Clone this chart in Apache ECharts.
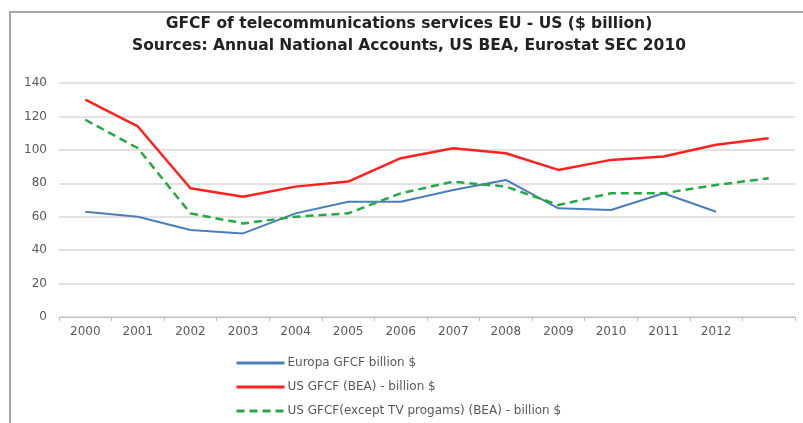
<!DOCTYPE html>
<html>
<head>
<meta charset="utf-8">
<script src="https://cdn.jsdelivr.net/npm/echarts@6/dist/echarts.min.js"></script>
<style>
  html, body { margin: 0; padding: 0; background: #fff; }
  #chart { width: 803px; height: 423px; }
</style>
</head>
<body>
<div id="chart"></div>
<script>
// categories (last slot has no label, US series run into it)
var years = ['2000','2001','2002','2003','2004','2005','2006','2007','2008','2009','2010','2011','2012',''];
var yTicks = { min: 0, max: 140, interval: 20 };

// values, billion $
var europe = [63, 60, 52, 50, 62, 69, 69, 76, 82, 65, 64, 74, 63, null];
var usBea = [130, 114, 77, 72, 78, 81, 95, 101, 98, 88, 94, 96, 103, 107];
var usExTv = [118, 101, 62, 56, 60, 62, 74, 81, 78, 67, 74, 74, 79, 83];

var names = [
  'Europa GFCF billion $',
  'US GFCF (BEA) - billion $',
  'US GFCF(except TV progams) (BEA) - billion $'
];

var chart = echarts.init(document.getElementById('chart'));
var txt = '#595959';

chart.setOption({
  animation: false,
  textStyle: { fontFamily: 'DejaVu Sans, sans-serif' },
  title: {
    text: 'GFCF of telecommunications services EU - US ($ billion)\nSources: Annual National Accounts, US BEA, Eurostat SEC 2010',
    left: 404,
    textAlign: 'center',
    top: 8,
    textStyle: { fontSize: 15.5, fontWeight: 'bold', color: '#222', lineHeight: 22 }
  },
  graphic: [{
    type: 'rect',
    shape: { x: 10, y: 12, width: 820, height: 440 },
    style: { fill: 'none', stroke: '#a6a6a6', lineWidth: 2 },
    silent: true
  }],
  legend: {
    orient: 'vertical',
    left: 230,
    top: 352,
    itemWidth: 48,
    itemHeight: 10,
    itemGap: 12,
    itemStyle: { opacity: 0 },
    lineStyle: { width: 3 },
    textStyle: { fontSize: 12, color: txt, padding: [0, 0, 0, -2] },
    data: names
  },
  grid: { left: 59, right: 8, top: 83, bottom: 106 },
  xAxis: {
    type: 'category',
    data: years,
    boundaryGap: true,
    axisLine: { lineStyle: { color: '#bfbfbf', width: 1 } },
    axisTick: { show: true, length: 4, alignWithLabel: false, lineStyle: { color: '#bfbfbf' } },
    axisLabel: { color: txt, fontSize: 12, margin: 9, interval: 0 }
  },
  yAxis: {
    type: 'value',
    min: yTicks.min,
    max: yTicks.max,
    interval: yTicks.interval,
    axisLine: { show: false },
    axisTick: { show: false },
    axisLabel: { color: txt, fontSize: 12, margin: 12 },
    splitLine: { lineStyle: { color: '#d9d9d9', width: 1.5 } }
  },
  series: [
    {
      name: names[0], type: 'line', data: europe,
      symbol: 'none', connectNulls: false,
      itemStyle: { color: '#4a7ebb' },
      lineStyle: { color: '#4a7ebb', width: 2 }
    },
    {
      name: names[1], type: 'line', data: usBea,
      symbol: 'none',
      itemStyle: { color: '#ff2020' },
      lineStyle: { color: '#ff2020', width: 2.5 }
    },
    {
      name: names[2], type: 'line', data: usExTv,
      symbol: 'none',
      itemStyle: { color: '#26a844' },
      lineStyle: { color: '#26a844', width: 2.5, type: [8, 5] }
    }
  ]
});
</script>
</body>
</html>
